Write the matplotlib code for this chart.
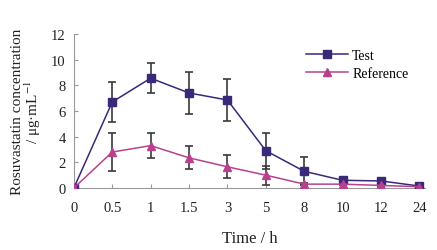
import matplotlib.pyplot as plt
import numpy as np

plt.rcParams['font.family'] = ['Liberation Serif', 'DejaVu Serif']
plt.rcParams['mathtext.fontset'] = 'stix'

time_labels = ['0', '0.5', '1', '1.5', '3', '5', '8', '10', '12', '24']
test_mean = [0, 6.7, 8.55, 7.4, 6.85, 2.9, 1.3, 0.6, 0.55, 0.15]
test_sd = [0, 1.55, 1.15, 1.65, 1.6, 1.4, 1.1, 0.15, 0.2, 0.1]
ref_mean = [0, 2.8, 3.3, 2.35, 1.65, 1.0, 0.3, 0.3, 0.2, 0.1]
ref_sd = [0, 1.5, 1.0, 0.9, 0.9, 0.75, 0.1, 0.1, 0.1, 0.05]

test_color = '#3A2878'
ref_color = '#B8418E'
err_color = '#3a3a3a'

x = np.arange(len(time_labels))

fig = plt.figure(figsize=(4.37, 2.51), dpi=100)
ax = fig.add_axes([0.169, 0.247, 0.804, 0.614])

ax.errorbar(x, test_mean, yerr=test_sd, fmt='none', ecolor=err_color,
            elinewidth=1.2, capsize=3, capthick=1.2, zorder=2)
ax.errorbar(x, ref_mean, yerr=ref_sd, fmt='none', ecolor=err_color,
            elinewidth=1.2, capsize=3, capthick=1.2, zorder=2)
ax.plot(x, test_mean, color=test_color, marker='s', markersize=5.5,
        linewidth=1.1, label='Test', zorder=3)
ax.plot(x, ref_mean, color=ref_color, marker='^', markersize=6,
        linewidth=1.1, label='Reference', zorder=3)

ax.set_xlim(0, 9.15)
ax.set_ylim(0, 12)
ax.set_xticks(x)
ax.set_xticklabels(time_labels)
ax.set_yticks(np.arange(0, 13, 2))

for side in ['top', 'right']:
    ax.spines[side].set_visible(False)
for side in ['left', 'bottom']:
    ax.spines[side].set_color('#999999')
    ax.spines[side].set_linewidth(0.8)
ax.tick_params(direction='in', length=3, width=0.8, color='#999999',
               labelsize=10.5, labelcolor='#222222')
ax.tick_params(axis='x', pad=9)
ax.tick_params(axis='y', pad=6)

ax.set_xlabel('Time / h', fontsize=12, color='#222222', labelpad=12)
ax.set_ylabel('Rosuvastatin concentration\n/ μg·mL$^{-1}$',
              fontsize=11, color='#222222', linespacing=0.9, labelpad=6)

leg = ax.legend(loc='upper left', bbox_to_anchor=(0.626, 0.985), frameon=False,
                fontsize=10, handlelength=3, handletextpad=0.3,
                labelspacing=0.35)

fig.savefig('out.png', dpi=100)
